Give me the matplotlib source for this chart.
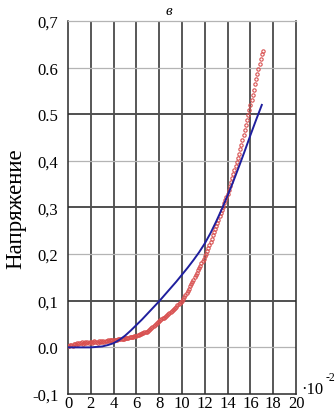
import numpy as np
import matplotlib
matplotlib.use("Agg")
import matplotlib.pyplot as plt

# horizontal axis, units of 10^-2
x_red = np.round(np.arange(0, 17.15, 0.1), 2)
red_values = [
    0.002, 0.004, 0.005, 0.006, 0.004, 0.007, 0.008, 0.006, 0.009, 0.008,
    0.010, 0.009, 0.011, 0.008, 0.010, 0.012, 0.009, 0.011, 0.010, 0.012,
    0.011, 0.010, 0.012, 0.013, 0.011, 0.012, 0.010, 0.013, 0.012, 0.014,
    0.012, 0.013, 0.011, 0.014, 0.013, 0.015, 0.014, 0.016, 0.015, 0.016,
    0.015, 0.015, 0.016, 0.016, 0.017, 0.017, 0.018, 0.018, 0.019, 0.019,
    0.020, 0.020, 0.021, 0.021, 0.022, 0.022, 0.023, 0.023, 0.024, 0.024,
    0.025, 0.026, 0.027, 0.028, 0.029, 0.030, 0.031, 0.032, 0.033, 0.034,
    0.036, 0.038, 0.040, 0.042, 0.044, 0.046, 0.048, 0.050, 0.052, 0.054,
    0.056, 0.058, 0.060, 0.062, 0.064, 0.066, 0.068, 0.070, 0.072, 0.074,
    0.076, 0.078, 0.080, 0.082, 0.085, 0.087, 0.090, 0.093, 0.096, 0.098,
    0.100, 0.104, 0.108, 0.112, 0.116, 0.121, 0.126, 0.131, 0.135, 0.140,
    0.145, 0.150, 0.155, 0.160, 0.165, 0.170, 0.175, 0.180, 0.185, 0.190,
    0.195, 0.201, 0.207, 0.213, 0.219, 0.226, 0.233, 0.240, 0.247, 0.253,
    0.260, 0.267, 0.274, 0.281, 0.288, 0.295, 0.302, 0.309, 0.316, 0.323,
    0.330, 0.338, 0.346, 0.355, 0.363, 0.372, 0.380, 0.389, 0.397, 0.406,
    0.415, 0.425, 0.435, 0.445, 0.455, 0.466, 0.477, 0.488, 0.499, 0.510,
    0.520, 0.531, 0.542, 0.553, 0.564, 0.575, 0.586, 0.597, 0.608, 0.619,
    0.630, 0.636,
]

x_blue = np.arange(0, 17.01, 0.5)
blue_values = [
    0.0, 0.0, 0.0, 0.0, 0.0, 0.001, 0.002, 0.005, 0.009, 0.016,
    0.025, 0.036, 0.048, 0.060, 0.073, 0.086, 0.099, 0.113, 0.127, 0.141,
    0.156, 0.171, 0.187, 0.204, 0.223, 0.245, 0.270, 0.297, 0.326, 0.356,
    0.388, 0.421, 0.455, 0.488, 0.520,
]

x_ticks = list(range(0, 21, 2))
y_ticks = [-0.1, 0.0, 0.1, 0.2, 0.3, 0.4, 0.5, 0.6, 0.7]
y_tick_labels = ["-0,1", "0.0", "0,1", "0,2", "0,3", "0,4", "0.5", "0.6", "0,7"]
dark_rows = [0.1, 0.3, 0.5]

plt.rcParams["font.family"] = ["Liberation Serif", "DejaVu Serif"]

fig = plt.figure(figsize=(3.36, 4.14), dpi=100)
ax = fig.add_axes([0.2024, 0.0459, 0.6786, 0.901])

ax.set_xlim(0, 20)
ax.set_ylim(-0.1, 0.7)

# grid
for xv in x_ticks[1:-1]:
    ax.axvline(xv, color="#2a2a2a", lw=1.1, zorder=1)
for yv in y_ticks[1:-1]:
    if yv in dark_rows:
        ax.axhline(yv, color="#505050", lw=1.4, zorder=1)
    else:
        ax.axhline(yv, color="#b4b4b4", lw=0.9, zorder=1)

ax.plot(x_red, red_values, linestyle="none", marker="o", markersize=2.4,
        markerfacecolor="none", markeredgecolor="#d85050", markeredgewidth=0.8,
        zorder=3)
ax.plot(x_blue, blue_values, color="#1f1f9e", lw=1.4, zorder=4)

for side in ["left", "right", "bottom"]:
    ax.spines[side].set_color("#2a2a2a")
    ax.spines[side].set_linewidth(1.1)
ax.spines["top"].set_color("#b4b4b4")
ax.spines["top"].set_linewidth(0.9)

ax.set_xticks(x_ticks)
ax.set_xticklabels([str(v) for v in x_ticks])
ax.set_yticks(y_ticks)
ax.set_yticklabels(y_tick_labels)
ax.tick_params(axis="y", length=0, pad=7, labelsize=12)
ax.tick_params(axis="x", length=0, pad=1, labelsize=12)

ax.set_ylabel("Напряжение", fontsize=16.5, labelpad=4)
fig.text(0.503, 0.988, "в", ha="center", va="top", fontsize=11,
         style="italic")
fig.text(0.897, 0.038, "·10", ha="left", va="bottom", fontsize=12)
fig.text(0.968, 0.072, "-2", ha="left", va="bottom", fontsize=8.5)

fig.savefig("out.png", dpi=100)
